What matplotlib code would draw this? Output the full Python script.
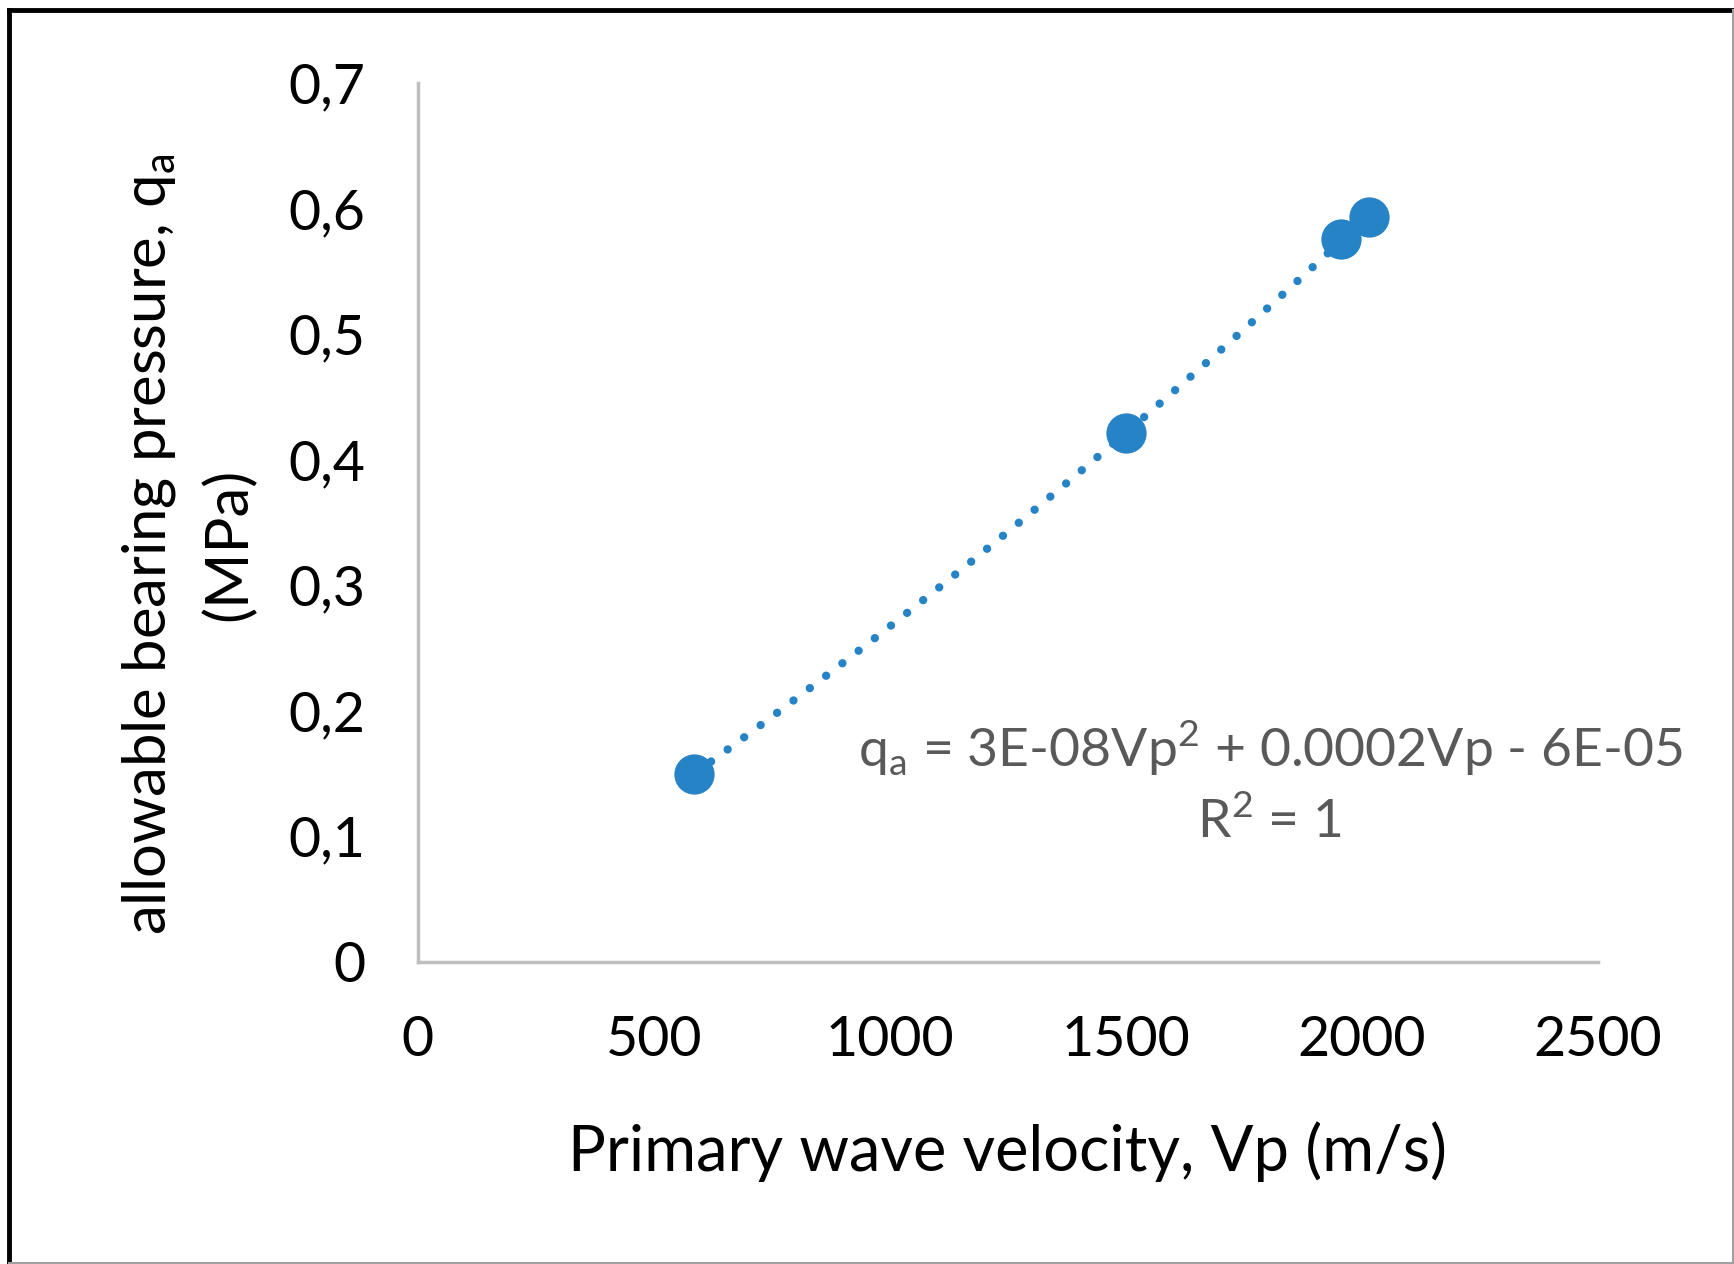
"""
Allowable bearing pressure vs primary wave velocity, with quadratic trendline.
"""

import numpy as np
import matplotlib
matplotlib.use("Agg")
import matplotlib.pyplot as plt
from matplotlib.lines import Line2D
from matplotlib.ticker import FuncFormatter, MultipleLocator

# --- DATA ---
vp = [586, 1500, 1956, 2015]          # m/s
qa = [0.150, 0.421, 0.576, 0.593]     # MPa
eq_text = "q$_\\mathregular{a}$ = 3E-08Vp$^\\mathregular{2}$ + 0.0002Vp - 6E-05"
r2_text = "R$^\\mathregular{2}$ = 1"

BLUE = "#2683C6"
GRAY_AX = "#BFBFBF"
GRAY_TXT = "#595959"

plt.rcParams["font.family"] = ["Lato", "DejaVu Sans"]


def main():
    fig = plt.figure(figsize=(17.34, 12.64), dpi=100)
    ax = fig.add_axes([0.241, 0.239, 0.6805, 0.6955])

    # quadratic trendline fitted to the points
    coef = np.polyfit(vp, qa, 2)
    xs = np.linspace(min(vp), max(vp), 200)
    ax.plot(xs, np.polyval(coef, xs), color=BLUE, lw=6,
            linestyle=(0, (0.01, 2.45)), dash_capstyle="round", zorder=2)
    ax.plot(vp, qa, "o", color=BLUE, ms=29, mec="none", zorder=3)

    ax.set_xlim(0, 2500)
    ax.set_ylim(0, 0.7)
    ax.xaxis.set_major_locator(MultipleLocator(500))
    ax.yaxis.set_major_locator(MultipleLocator(0.1))
    ax.yaxis.set_major_formatter(FuncFormatter(
        lambda v, p: "0" if abs(v) < 1e-9 else f"{v:.1f}".replace(".", ",")))
    ax.tick_params(length=0, labelsize=40, pad=38)

    for s in ("top", "right"):
        ax.spines[s].set_visible(False)
    for s in ("left", "bottom"):
        ax.spines[s].set_color(GRAY_AX)
        ax.spines[s].set_linewidth(2.5)

    ax.set_xlabel("Primary wave velocity, Vp (m/s)", fontsize=45.5, labelpad=40)
    ax.set_ylabel("allowable bearing pressure, q$_\\mathregular{a}$\n(MPa)",
                  fontsize=43, linespacing=1.5)
    ax.yaxis.set_label_coords(-0.137, 0.4755)

    ax.text(1805, 0.170, eq_text, fontsize=38.5, color=GRAY_TXT, ha="center", va="center")
    ax.text(1805, 0.112, r2_text, fontsize=38.5, color=GRAY_TXT, ha="center", va="center")

    # outer frame of the figure
    fig.add_artist(Line2D([0.005, 0.005], [0, 0.992], color="black", lw=3.5))
    fig.add_artist(Line2D([0.005, 1], [0.992, 0.992], color="black", lw=3.5))
    fig.add_artist(Line2D([0.9995, 0.9995], [0, 0.992], color="#A0A0A0", lw=1.5))
    fig.add_artist(Line2D([0.005, 1], [0.001, 0.001], color="#A0A0A0", lw=1.5))

    fig.savefig("out.png", dpi=100, facecolor="white")
    plt.close(fig)


if __name__ == "__main__":
    main()
